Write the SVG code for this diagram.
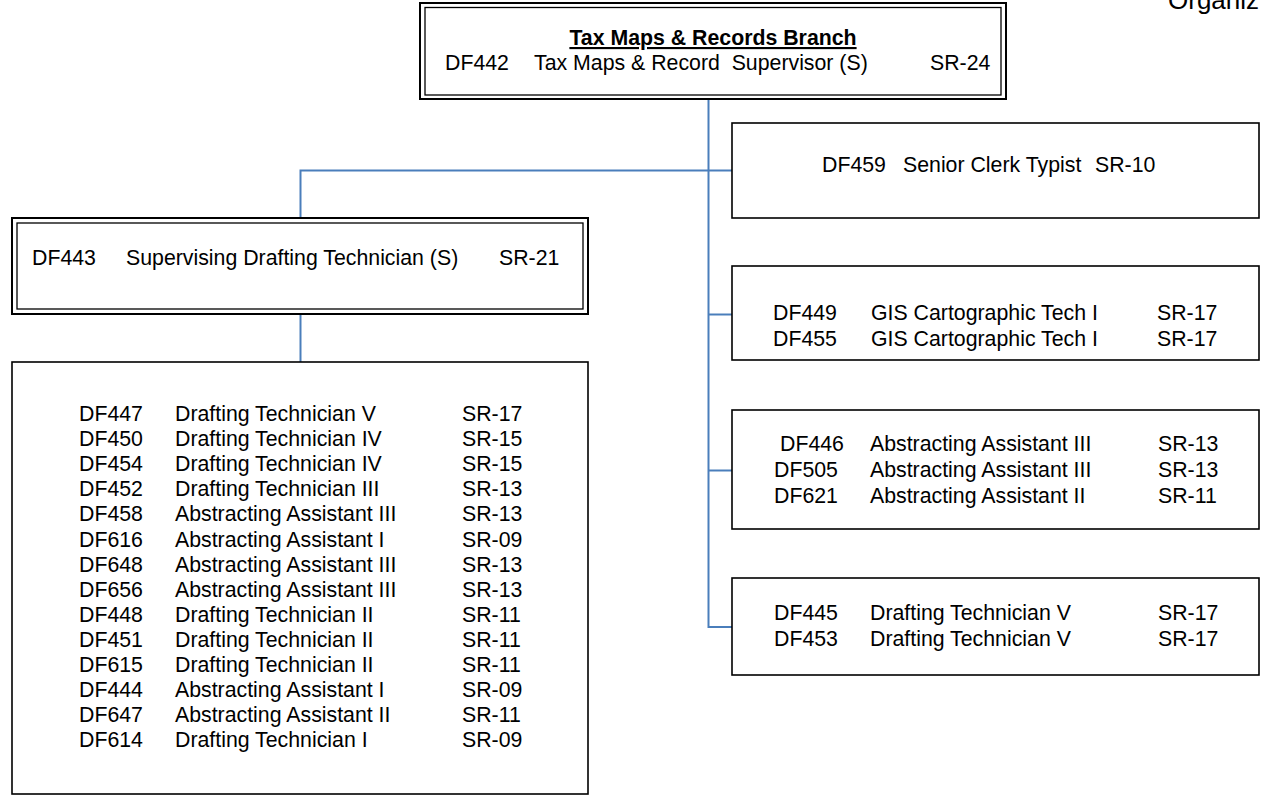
<svg xmlns="http://www.w3.org/2000/svg" width="1269" height="800" viewBox="0 0 1269 800">
<style>
  .bg { fill: #ffffff; }
  .box { fill: #ffffff; stroke: #000000; stroke-width: 1.6; }
  .outer { fill: #ffffff; stroke: #000000; stroke-width: 2; }
  .inner { fill: none; stroke: #000000; stroke-width: 1.3; }
  .t { font-family: "Liberation Sans", Arial, sans-serif; font-size: 21.3px; fill: #000000; white-space: pre; }
  .title { font-weight: bold; text-decoration: underline; }
  .conn { fill: none; stroke: #4A7EBB; stroke-width: 2; }
</style>
<rect class="bg" x="0" y="0" width="1269" height="800"/>
<text class="t" x="1168" y="9" style="font-size:26px">Organiz</text>

<g id="connectors">
  <path class="conn" d="M708.5,99 V627 H732"/>
  <path class="conn" d="M300.5,218 V170.5 H732"/>
  <path class="conn" d="M708.5,314.5 H732"/>
  <path class="conn" d="M708.5,470.5 H732"/>
  <path class="conn" d="M300.5,314 V362"/>
</g>

<g id="node-DF442">
  <rect class="outer" x="420" y="3" width="586" height="96"/>
  <rect class="inner" x="425" y="7.5" width="576" height="87.5"/>
  <text class="t title" x="713" y="45" text-anchor="middle">Tax Maps &amp; Records Branch</text>
  <text class="t" x="445" y="70">DF442</text>
  <text class="t" x="534" y="70">Tax Maps &amp; Record  Supervisor (S)</text>
  <text class="t" x="930" y="70">SR-24</text>
</g>

<g id="node-DF459">
  <rect class="box" x="732" y="123" width="527" height="95"/>
  <text class="t" x="822" y="172">DF459</text>
  <text class="t" x="903" y="172">Senior Clerk Typist</text>
  <text class="t" x="1095" y="172">SR-10</text>
</g>

<g id="node-DF443">
  <rect class="outer" x="12" y="218" width="576" height="96"/>
  <rect class="inner" x="17" y="223" width="566" height="86"/>
  <text class="t" x="32" y="265">DF443</text>
  <text class="t" x="126" y="265">Supervising Drafting Technician (S)</text>
  <text class="t" x="499" y="265">SR-21</text>
</g>

<g id="node-GIS">
  <rect class="box" x="732" y="266" width="527" height="94"/>
  <text class="t" x="773" y="320">DF449</text>
  <text class="t" x="871" y="320">GIS Cartographic Tech I</text>
  <text class="t" x="1157" y="320">SR-17</text>
  <text class="t" x="773" y="346">DF455</text>
  <text class="t" x="871" y="346">GIS Cartographic Tech I</text>
  <text class="t" x="1157" y="346">SR-17</text>
</g>

<g id="node-abstracting">
  <rect class="box" x="732" y="410" width="527" height="119"/>
  <text class="t" x="780" y="451">DF446</text>
  <text class="t" x="870" y="451">Abstracting Assistant III</text>
  <text class="t" x="1158" y="451">SR-13</text>
  <text class="t" x="774" y="477">DF505</text>
  <text class="t" x="870" y="477">Abstracting Assistant III</text>
  <text class="t" x="1158" y="477">SR-13</text>
  <text class="t" x="774" y="503">DF621</text>
  <text class="t" x="870" y="503">Abstracting Assistant II</text>
  <text class="t" x="1158" y="503">SR-11</text>
</g>

<g id="node-drafting">
  <rect class="box" x="732" y="578" width="527" height="97"/>
  <text class="t" x="774" y="620">DF445</text>
  <text class="t" x="870" y="620">Drafting Technician V</text>
  <text class="t" x="1158" y="620">SR-17</text>
  <text class="t" x="774" y="646">DF453</text>
  <text class="t" x="870" y="646">Drafting Technician V</text>
  <text class="t" x="1158" y="646">SR-17</text>
</g>

<g id="node-staff">
  <rect class="box" x="12" y="362" width="576" height="432"/>
  <g>
    <text class="t" x="79" y="421">DF447</text><text class="t" x="175" y="421">Drafting Technician V</text><text class="t" x="462" y="421">SR-17</text>
    <text class="t" x="79" y="446">DF450</text><text class="t" x="175" y="446">Drafting Technician IV</text><text class="t" x="462" y="446">SR-15</text>
    <text class="t" x="79" y="471">DF454</text><text class="t" x="175" y="471">Drafting Technician IV</text><text class="t" x="462" y="471">SR-15</text>
    <text class="t" x="79" y="496">DF452</text><text class="t" x="175" y="496">Drafting Technician III</text><text class="t" x="462" y="496">SR-13</text>
    <text class="t" x="79" y="521">DF458</text><text class="t" x="175" y="521">Abstracting Assistant III</text><text class="t" x="462" y="521">SR-13</text>
    <text class="t" x="79" y="547">DF616</text><text class="t" x="175" y="547">Abstracting Assistant I</text><text class="t" x="462" y="547">SR-09</text>
    <text class="t" x="79" y="572">DF648</text><text class="t" x="175" y="572">Abstracting Assistant III</text><text class="t" x="462" y="572">SR-13</text>
    <text class="t" x="79" y="597">DF656</text><text class="t" x="175" y="597">Abstracting Assistant III</text><text class="t" x="462" y="597">SR-13</text>
    <text class="t" x="79" y="622">DF448</text><text class="t" x="175" y="622">Drafting Technician II</text><text class="t" x="462" y="622">SR-11</text>
    <text class="t" x="79" y="647">DF451</text><text class="t" x="175" y="647">Drafting Technician II</text><text class="t" x="462" y="647">SR-11</text>
    <text class="t" x="79" y="672">DF615</text><text class="t" x="175" y="672">Drafting Technician II</text><text class="t" x="462" y="672">SR-11</text>
    <text class="t" x="79" y="697">DF444</text><text class="t" x="175" y="697">Abstracting Assistant I</text><text class="t" x="462" y="697">SR-09</text>
    <text class="t" x="79" y="722">DF647</text><text class="t" x="175" y="722">Abstracting Assistant II</text><text class="t" x="462" y="722">SR-11</text>
    <text class="t" x="79" y="747">DF614</text><text class="t" x="175" y="747">Drafting Technician I</text><text class="t" x="462" y="747">SR-09</text>
  </g>
</g>
</svg>
